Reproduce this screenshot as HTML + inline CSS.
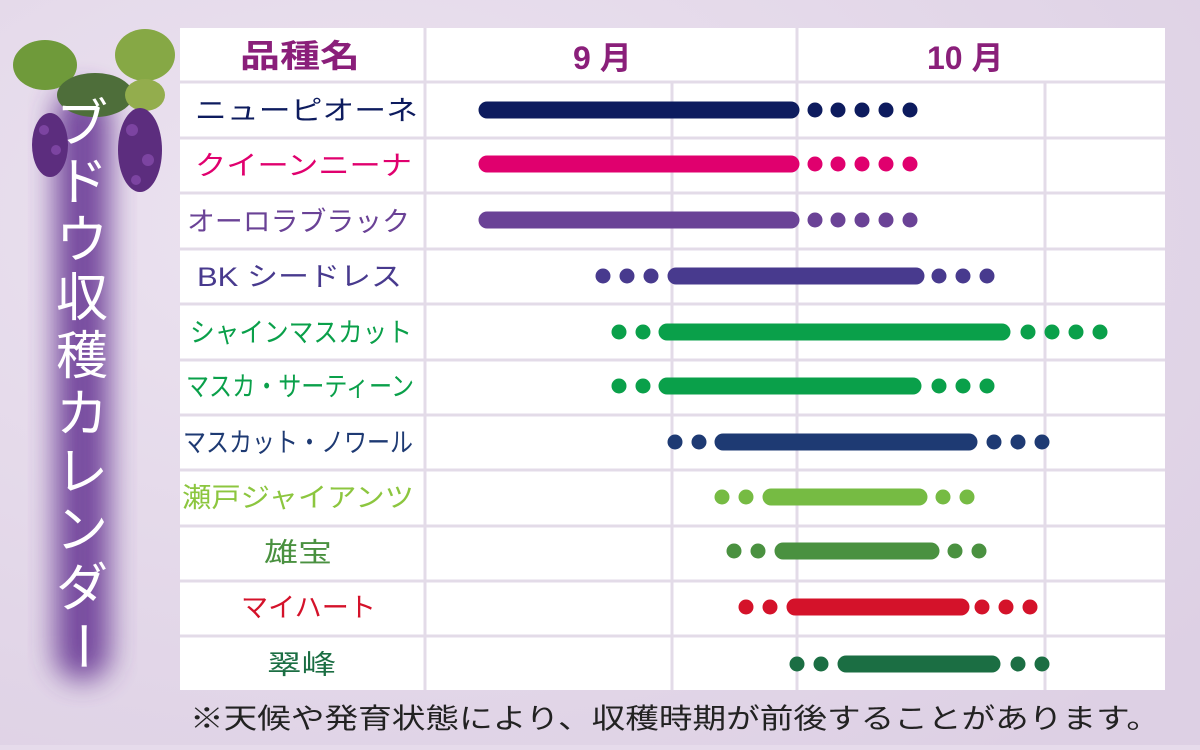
<!DOCTYPE html>
<html><head><meta charset="utf-8"><style>
body{margin:0;width:1200px;height:745px;overflow:hidden;background:#e6dbeb;}
svg text{font-family:"Liberation Sans","Noto Sans CJK JP",sans-serif;}
</style></head><body>
<svg width="1200" height="745" viewBox="0 0 1200 745" xmlns="http://www.w3.org/2000/svg">
<defs>
<filter id="bl" x="-50%" y="-20%" width="200%" height="140%"><feGaussianBlur stdDeviation="14"/></filter>
<radialGradient id="bg" cx="0.3" cy="0.3" r="0.9"><stop offset="0" stop-color="#ece3f0"/><stop offset="1" stop-color="#ddd0e4"/></radialGradient>
</defs>
<rect width="1200" height="745" fill="url(#bg)"/>
<rect x="180" y="28" width="985" height="662" fill="#fff"/>
<g stroke="#e3dbe8" stroke-width="3">
<line x1="180" y1="82" x2="1165" y2="82"/>
<line x1="180" y1="138" x2="1165" y2="138"/>
<line x1="180" y1="193" x2="1165" y2="193"/>
<line x1="180" y1="249" x2="1165" y2="249"/>
<line x1="180" y1="304" x2="1165" y2="304"/>
<line x1="180" y1="360" x2="1165" y2="360"/>
<line x1="180" y1="415" x2="1165" y2="415"/>
<line x1="180" y1="470" x2="1165" y2="470"/>
<line x1="180" y1="526" x2="1165" y2="526"/>
<line x1="180" y1="581" x2="1165" y2="581"/>
<line x1="180" y1="636" x2="1165" y2="636"/>
<line x1="425" y1="28" x2="425" y2="690"/>
<line x1="797" y1="28" x2="797" y2="690"/>
<line x1="672" y1="82" x2="672" y2="690"/>
<line x1="1045" y1="82" x2="1045" y2="690"/>
</g>
<g font-size="32" font-weight="bold" fill="#8a1f7a">
<text x="240" y="67" textLength="120" lengthAdjust="spacingAndGlyphs">品種名</text>
<text x="573" y="69">9 月</text>
<text x="927" y="69">10 月</text>
</g>
<g font-size="27">
<text x="195" y="120" fill="#0d1b5e" textLength="223" lengthAdjust="spacingAndGlyphs">ニューピオーネ</text>
<text x="195" y="175" fill="#e0006e" textLength="217" lengthAdjust="spacingAndGlyphs">クイーンニーナ</text>
<text x="187" y="231" fill="#6a4296" textLength="223" lengthAdjust="spacingAndGlyphs">オーロラブラック</text>
<text x="197" y="286" fill="#483a8e" textLength="205" lengthAdjust="spacingAndGlyphs">BK シードレス</text>
<text x="190" y="342" fill="#0aa04a" textLength="222" lengthAdjust="spacingAndGlyphs">シャインマスカット</text>
<text x="186" y="396" fill="#0aa04a" textLength="228" lengthAdjust="spacingAndGlyphs">マスカ・サーティーン</text>
<text x="183" y="452" fill="#1e3a73" textLength="230" lengthAdjust="spacingAndGlyphs">マスカット・ノワール</text>
<text x="182" y="507" fill="#8cc63f" textLength="232" lengthAdjust="spacingAndGlyphs">瀬戸ジャイアンツ</text>
<text x="264" y="562" fill="#4a9140" textLength="68" lengthAdjust="spacingAndGlyphs">雄宝</text>
<text x="241" y="617" fill="#d4122a" textLength="135" lengthAdjust="spacingAndGlyphs">マイハート</text>
<text x="267" y="674" fill="#1b6e43" textLength="69" lengthAdjust="spacingAndGlyphs">翠峰</text>
</g>
<g stroke-width="17" stroke-linecap="round">
<g stroke="#0d1b5e" fill="#0d1b5e"><line x1="487" y1="110" x2="791" y2="110"/><g stroke="none"><circle cx="815" cy="110" r="7.5"/><circle cx="838" cy="110" r="7.5"/><circle cx="862" cy="110" r="7.5"/><circle cx="886" cy="110" r="7.5"/><circle cx="910" cy="110" r="7.5"/></g></g>
<g stroke="#e0006e" fill="#e0006e"><line x1="487" y1="164" x2="791" y2="164"/><g stroke="none"><circle cx="815" cy="164" r="7.5"/><circle cx="838" cy="164" r="7.5"/><circle cx="862" cy="164" r="7.5"/><circle cx="886" cy="164" r="7.5"/><circle cx="910" cy="164" r="7.5"/></g></g>
<g stroke="#6a4296" fill="#6a4296"><line x1="487" y1="220" x2="791" y2="220"/><g stroke="none"><circle cx="815" cy="220" r="7.5"/><circle cx="838" cy="220" r="7.5"/><circle cx="862" cy="220" r="7.5"/><circle cx="886" cy="220" r="7.5"/><circle cx="910" cy="220" r="7.5"/></g></g>
<g stroke="#483a8e" fill="#483a8e"><line x1="676" y1="276" x2="916" y2="276"/><g stroke="none"><circle cx="603" cy="276" r="7.5"/><circle cx="627" cy="276" r="7.5"/><circle cx="651" cy="276" r="7.5"/><circle cx="939" cy="276" r="7.5"/><circle cx="963" cy="276" r="7.5"/><circle cx="987" cy="276" r="7.5"/></g></g>
<g stroke="#0aa04a" fill="#0aa04a"><line x1="667" y1="332" x2="1002" y2="332"/><g stroke="none"><circle cx="619" cy="332" r="7.5"/><circle cx="643" cy="332" r="7.5"/><circle cx="1028" cy="332" r="7.5"/><circle cx="1052" cy="332" r="7.5"/><circle cx="1076" cy="332" r="7.5"/><circle cx="1100" cy="332" r="7.5"/></g></g>
<g stroke="#0aa04a" fill="#0aa04a"><line x1="667" y1="386" x2="913" y2="386"/><g stroke="none"><circle cx="619" cy="386" r="7.5"/><circle cx="643" cy="386" r="7.5"/><circle cx="939" cy="386" r="7.5"/><circle cx="963" cy="386" r="7.5"/><circle cx="987" cy="386" r="7.5"/></g></g>
<g stroke="#1e3a73" fill="#1e3a73"><line x1="723" y1="442" x2="969" y2="442"/><g stroke="none"><circle cx="675" cy="442" r="7.5"/><circle cx="699" cy="442" r="7.5"/><circle cx="994" cy="442" r="7.5"/><circle cx="1018" cy="442" r="7.5"/><circle cx="1042" cy="442" r="7.5"/></g></g>
<g stroke="#76bb43" fill="#76bb43"><line x1="771" y1="497" x2="919" y2="497"/><g stroke="none"><circle cx="722" cy="497" r="7.5"/><circle cx="746" cy="497" r="7.5"/><circle cx="943" cy="497" r="7.5"/><circle cx="967" cy="497" r="7.5"/></g></g>
<g stroke="#4a9140" fill="#4a9140"><line x1="783" y1="551" x2="931" y2="551"/><g stroke="none"><circle cx="734" cy="551" r="7.5"/><circle cx="758" cy="551" r="7.5"/><circle cx="955" cy="551" r="7.5"/><circle cx="979" cy="551" r="7.5"/></g></g>
<g stroke="#d4122a" fill="#d4122a"><line x1="795" y1="607" x2="961" y2="607"/><g stroke="none"><circle cx="746" cy="607" r="7.5"/><circle cx="770" cy="607" r="7.5"/><circle cx="982" cy="607" r="7.5"/><circle cx="1006" cy="607" r="7.5"/><circle cx="1030" cy="607" r="7.5"/></g></g>
<g stroke="#1b6e43" fill="#1b6e43"><line x1="846" y1="664" x2="992" y2="664"/><g stroke="none"><circle cx="797" cy="664" r="7.5"/><circle cx="821" cy="664" r="7.5"/><circle cx="1018" cy="664" r="7.5"/><circle cx="1042" cy="664" r="7.5"/></g></g>
</g>
<rect x="55" y="90" width="55" height="590" rx="25" fill="#6a3a96" filter="url(#bl)" opacity="0.9"/>
<g>
<ellipse cx="45" cy="65" rx="32" ry="25" fill="#6f9a3a"/>
<ellipse cx="145" cy="55" rx="30" ry="26" fill="#86a845"/>
<ellipse cx="95" cy="95" rx="38" ry="22" fill="#4e6e3a"/>
<ellipse cx="145" cy="95" rx="20" ry="16" fill="#93ad4d"/>
<g fill="#5c2d7e"><ellipse cx="50" cy="145" rx="18" ry="32"/><ellipse cx="140" cy="150" rx="22" ry="42"/></g>
<g fill="#8a4fb0" opacity="0.7"><circle cx="44" cy="130" r="5"/><circle cx="56" cy="150" r="5"/><circle cx="132" cy="130" r="6"/><circle cx="148" cy="160" r="6"/><circle cx="136" cy="180" r="5"/></g>
</g>
<g font-size="52" fill="#fff" text-anchor="middle">
<text x="82" y="142">ブ</text><text x="82" y="200">ド</text><text x="82" y="258">ウ</text><text x="82" y="316">収</text><text x="82" y="374">穫</text><text x="82" y="432">カ</text><text x="82" y="490">レ</text><text x="82" y="548">ン</text><text x="82" y="606">ダ</text><text x="82" y="664" transform="rotate(90 82 646)">ー</text>
</g>
<text x="190" y="728" font-size="28" fill="#222" textLength="970" lengthAdjust="spacingAndGlyphs">※天候や発育状態により、収穫時期が前後することがあります。</text>
</svg>
</body></html>
